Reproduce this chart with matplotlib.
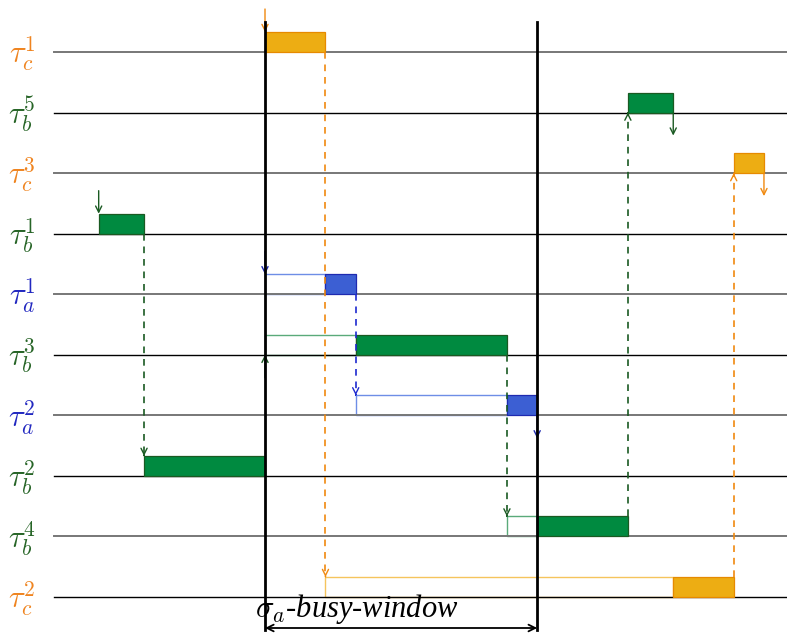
import matplotlib
matplotlib.use("Agg")
import matplotlib.pyplot as plt
from matplotlib.patches import Rectangle

plt.rcParams['mathtext.fontset'] = 'cm'

# ---- data ----
row_labels = [r'$\tau_c^1$', r'$\tau_b^5$', r'$\tau_c^3$', r'$\tau_b^1$', r'$\tau_a^1$',
              r'$\tau_b^3$', r'$\tau_a^2$', r'$\tau_b^2$', r'$\tau_b^4$', r'$\tau_c^2$']
row_groups = ['c', 'b', 'c', 'b', 'a', 'b', 'a', 'b', 'b', 'c']
# jobs per row: release, start of execution, end of execution
job_release = [0, 24, 31, -11, 0, 0, 6, -8, 16, 4]
job_start = [0, 24, 31, -11, 4, 6, 16, -8, 18, 27]
job_end = [4, 27, 33, -8, 6, 16, 18, 0, 24, 31]
# precedence links: (from row, to row)
links = [(3, 7), (0, 9), (4, 6), (5, 8), (8, 1), (9, 2)]
# arrows marking release (down) and completion (down) without link
release_marks = [0, 3, 4]
release_up_marks = [5]
finish_marks = [1, 2, 6]
busy_start, busy_end = 0, 18
busy_label = r'$\sigma_a$-busy-window'

# ---- styles ----
fill = {'a': '#3C5FD3', 'b': '#008A40', 'c': '#EDAD13'}
edge = {'a': '#1E2AB0', 'b': '#1A5A22', 'c': '#E68A00'}
frame = {'a': '#6E8EE6', 'b': '#5AAA7A', 'c': '#F5C45C'}
txt = {'a': '#2228C0', 'b': '#276527', 'c': '#EF8420'}
dash = {'a': '#1E2AD0', 'b': '#1A5A22', 'c': '#F0890F'}

n = len(row_labels)
ypos = [n - 1 - i for i in range(n)]
H = 0.33
AL = 0.38

fig = plt.figure(figsize=(7.87, 6.35), dpi=100)
ax = fig.add_axes([0, 0, 1, 1])
ax.set_xlim(-265 / 15.12, (787 - 265) / 15.12)
ax.set_ylim(-38 / 60.55, 9 + 52 / 60.55)
ax.axis('off')

x_line0 = (54 - 265) / 15.12
for i in range(n):
    y = ypos[i]
    col = '#777777' if i % 2 == 0 else 'black'
    lw = 1.4 if i % 2 == 0 else 1.0
    ax.plot([x_line0, ax.get_xlim()[1]], [y, y], color=col, lw=lw, zorder=2.5)
    g = row_groups[i]
    ax.text((22 - 265) / 15.12, y - 0.03, row_labels[i], color=txt[g], fontsize=22,
            ha='center', va='center')
    # frame (waiting)
    if job_start[i] > job_release[i]:
        ax.add_patch(Rectangle((job_release[i], y), job_start[i] - job_release[i], H,
                               fill=False, edgecolor=frame[g], lw=1.0, zorder=2))
    ax.add_patch(Rectangle((job_start[i], y), job_end[i] - job_start[i], H,
                           facecolor=fill[g], edgecolor=edge[g], lw=0.9, zorder=3))


def arrow(x, y0, y1, color, ls='-'):
    if ls == '-':
        ax.annotate('', xy=(x, y1), xytext=(x, y0),
                    arrowprops=dict(arrowstyle='->', color=color, lw=1.0,
                                    shrinkA=0, shrinkB=0, mutation_scale=11), zorder=4)
    else:
        ax.plot([x, x], [y0, y1], color=color, lw=1.2, ls=(0, (4, 3.5)), zorder=4)
        d = 0.01 if y1 > y0 else -0.01
        ax.annotate('', xy=(x, y1), xytext=(x, y1 - d),
                    arrowprops=dict(arrowstyle='->', color=color, lw=1.0,
                                    shrinkA=0, shrinkB=0, mutation_scale=11), zorder=4)


for a, b in links:
    g = row_groups[a]
    x = job_end[a]
    if ypos[b] < ypos[a]:
        arrow(x, ypos[a], ypos[b] + H, dash[g], ls='--')
    else:
        arrow(x, ypos[a] + H, ypos[b], dash[g], ls='--')

for i in release_marks:
    g = row_groups[i]
    arrow(job_release[i], ypos[i] + H + AL, ypos[i] + H, edge[g] if g != 'c' else dash[g])
for i in release_up_marks:
    g = row_groups[i]
    arrow(job_release[i], ypos[i] - AL, ypos[i], edge[g])
for i in finish_marks:
    g = row_groups[i]
    arrow(job_end[i], ypos[i], ypos[i] - AL, edge[g] if g != 'c' else dash[g])

top = 9 + (52 - 22) / 60.55
bot = -(630 - 597) / 60.55
for x in (busy_start, busy_end):
    ax.plot([x, x], [bot, top], color='black', lw=2.0, zorder=5)

yb = -(628 - 597) / 60.55
ax.annotate('', xy=(busy_end, yb), xytext=(busy_start, yb),
            arrowprops=dict(arrowstyle='<->', color='black', lw=1.3,
                            shrinkA=0, shrinkB=0, mutation_scale=12), zorder=5)
ax.text((357 - 265) / 15.12, -(609 - 597) / 60.55, busy_label,
        fontsize=22, family='Liberation Serif', style='italic',
        ha='center', va='center', zorder=6)

fig.savefig('out.png', dpi=100)
